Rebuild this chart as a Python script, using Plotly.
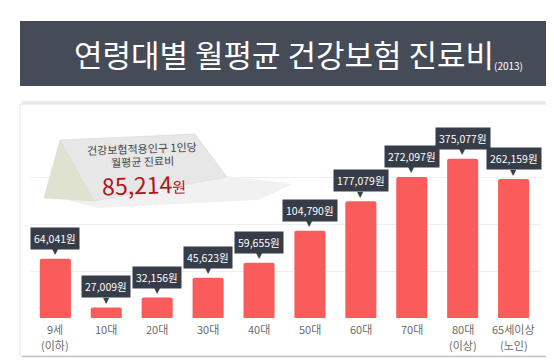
import math
import plotly.graph_objects as go

# ---- data ----
categories = ["9세", "10대", "20대", "30대", "40대", "50대", "60대", "70대", "80대", "65세이상"]
category_notes = ["(이하)", "", "", "", "", "", "", "", "(이상)", "(노인)"]
values = [64041, 27009, 32156, 45623, 59655, 104790, 177079, 272097, 375077, 262159]
value_labels = [f"{v:,}원" for v in values]
title_text = "연령대별 월평균 건강보험 진료비"
title_year = "(2013)"
card_lines = ["건강보험적용인구 1인당", "월평균 진료비"]
card_value = "85,214"
card_unit = "원"

W, H = 554, 364
FONT = "Noto Sans CJK KR"
BAR = "#fa5b5b"
DARK = "#363c48"
TICK = "#6b6b6b"


def px(x):
    return x / W


def py(y):
    return 1 - y / H


def path(points):
    return "M " + " L ".join(f"{px(x):.4f},{py(y):.4f}" for x, y in points) + " Z"


fig = go.Figure()
fig.add_trace(go.Bar(
    x=categories, y=values,
    marker=dict(color=BAR, cornerradius=2, line=dict(width=0)),
    hoverinfo="skip",
))

shapes = [
    # title bar
    dict(type="rect", xref="paper", yref="paper", x0=px(12), x1=px(543), y0=py(78), y1=py(13),
         fillcolor="#454b57", line=dict(width=0), layer="below"),
    # card
    dict(type="line", xref="paper", yref="paper", x0=px(14), x1=px(542), y0=py(95), y1=py(95),
         line=dict(color="#ebebeb", width=4), layer="below"),
    dict(type="rect", xref="paper", yref="paper", x0=px(12), x1=px(542), y0=py(348), y1=py(96),
         fillcolor="white", line=dict(color="#e6e6e6", width=1), layer="below"),
    dict(type="line", xref="paper", yref="paper", x0=px(14), x1=px(542), y0=py(348.5), y1=py(348.5),
         line=dict(color="#c4c4c4", width=1.5), layer="below"),
    # tent card shadow
    dict(type="path", xref="paper", yref="paper",
         path=path([(60, 192), (218, 168), (285, 176), (250, 192), (90, 200)]),
         fillcolor="#f1f1f1", line=dict(width=0), layer="above"),
    # tent card side
    dict(type="path", xref="paper", yref="paper",
         path=path([(52, 132), (36, 190), (86, 193)]),
         fillcolor="#dfe2cf", line=dict(color="#d4d7c4", width=0.5), layer="above"),
    # tent card front
    dict(type="path", xref="paper", yref="paper",
         path=path([(52, 132), (187, 126), (219, 169), (86, 193)]),
         fillcolor="#e7e7e7", line=dict(color="#d2d2d2", width=0.5), layer="above"),
]

annotations = [
    dict(text=title_text, xref="paper", yref="paper", x=px(64), y=py(45), xanchor="left",
         yanchor="middle", showarrow=False, font=dict(family=FONT, size=31, color="white")),
    dict(text=title_year, xref="paper", yref="paper", x=px(484), y=py(57), xanchor="left",
         yanchor="middle", showarrow=False, font=dict(family=FONT, size=10, color="white")),
    dict(text=card_lines[0], xref="paper", yref="paper", x=px(134), y=py(140), xanchor="center",
         yanchor="middle", showarrow=False, textangle=-2,
         font=dict(family=FONT, size=11, color="#444444")),
    dict(text=card_lines[1], xref="paper", yref="paper", x=px(134), y=py(153), xanchor="center",
         yanchor="middle", showarrow=False, textangle=-2,
         font=dict(family=FONT, size=11, color="#444444")),
    dict(text=f"{card_value}<span style='font-size:15px'>{card_unit}</span>", xref="paper",
         yref="paper", x=px(136), y=py(176), xanchor="center", yanchor="middle",
         showarrow=False, textangle=-2,
         font=dict(family=FONT, size=23, color="#b3141c")),
]

for c, note, v, lab in zip(categories, category_notes, values, value_labels):
    ly = math.log10(v)
    annotations.append(dict(
        x=c, y=ly, xref="x", yref="y", text="▼", showarrow=False,
        yanchor="middle", yshift=7, font=dict(family="DejaVu Sans", size=8, color=DARK)))
    annotations.append(dict(
        x=c, y=ly, xref="x", yref="y", text=lab, showarrow=False,
        yanchor="bottom", yshift=9, bgcolor=DARK, borderpad=3,
        font=dict(family=FONT, size=10.5, color="white")))
    annotations.append(dict(
        x=c, y=py(321), xref="x", yref="paper", text=c, showarrow=False,
        yanchor="middle", borderpad=0, font=dict(family=FONT, size=11, color=TICK)))
    if note:
        annotations.append(dict(
            x=c, y=py(337), xref="x", yref="paper", text=note, showarrow=False,
            yanchor="middle", borderpad=0, font=dict(family=FONT, size=11, color=TICK)))

fig.update_layout(
    width=W, height=H,
    margin=dict(l=0, r=0, t=0, b=0),
    paper_bgcolor="white", plot_bgcolor="rgba(0,0,0,0)",
    showlegend=False,
    bargap=0.39,
    shapes=shapes,
    annotations=annotations,
    xaxis=dict(domain=[21.9 / W, 533.6 / W], showgrid=False, showline=False, ticks="",
               showticklabels=False, fixedrange=True),
    yaxis=dict(type="log", domain=[py(310), py(125)], range=[4.350, 5.773],
               showticklabels=False, showgrid=True, gridcolor="#efefef", gridwidth=1,
               tick0=4.7115, dtick=0.3615, zeroline=False, fixedrange=True),
)

fig.write_html("out.html")
